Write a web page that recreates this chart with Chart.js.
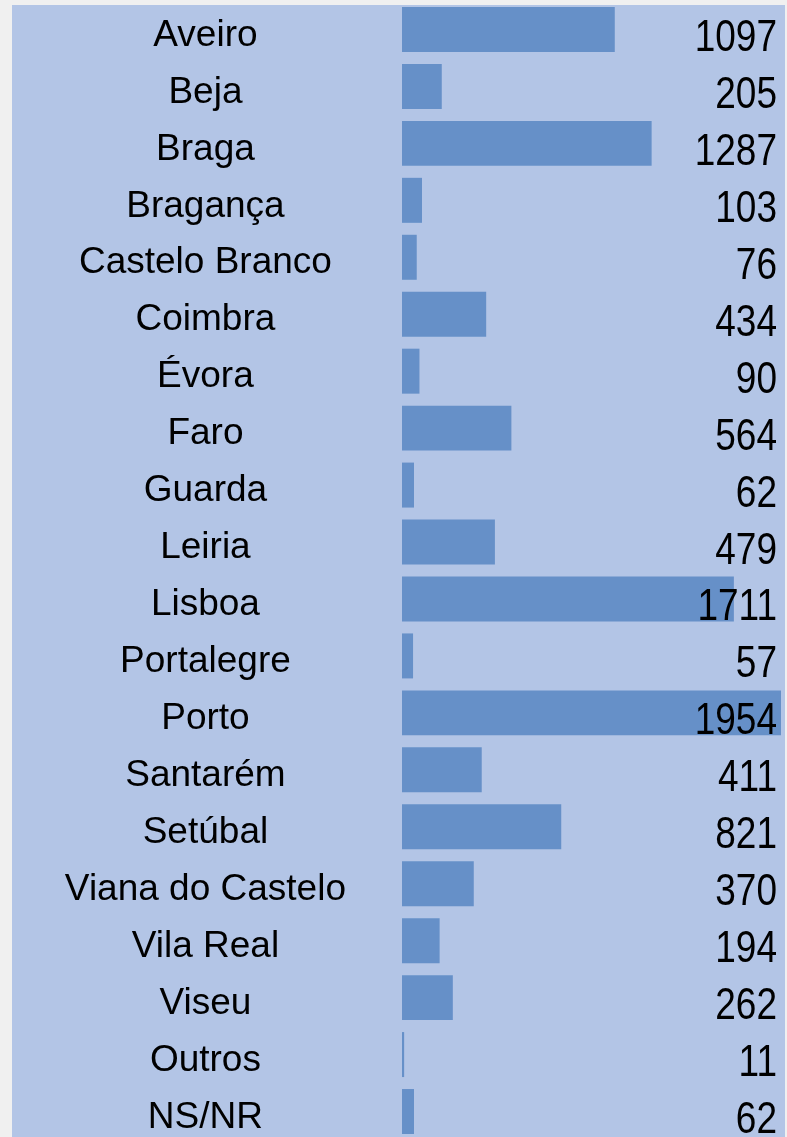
<!DOCTYPE html>
<html>
<head>
<meta charset="utf-8">
<script src="https://cdn.jsdelivr.net/npm/chart.js@4.4.1/dist/chart.umd.min.js"></script>
<style>
    html, body { margin: 0; padding: 0; background: #f0f0f0; overflow: hidden; }
    canvas { display: block; }
</style>
</head>
<body>
<canvas id="barChart" width="787" height="1141"></canvas>
<script>
const districts = ['Aveiro', 'Beja', 'Braga', 'Bragança', 'Castelo Branco', 'Coimbra', 'Évora', 'Faro',
    'Guarda', 'Leiria', 'Lisboa', 'Portalegre', 'Porto', 'Santarém', 'Setúbal', 'Viana do Castelo',
    'Vila Real', 'Viseu', 'Outros', 'NS/NR'];
const counts = [1097, 205, 1287, 103, 76, 434, 90, 564, 62, 479, 1711, 57, 1954, 411, 821, 370, 194, 262, 11, 62];

// light blue panel behind everything
const panelBg = {
    id: 'panelBg',
    beforeDraw(chart) {
        const ctx = chart.ctx;
        ctx.save();
        ctx.fillStyle = '#b3c5e6';
        ctx.fillRect(12, 5, chart.width - 14, chart.height - 5);
        ctx.restore();
    }
};

// numbers on the right, drawn next to each bar
const valueLabels = {
    id: 'valueLabels',
    afterDatasetsDraw(chart) {
        const ctx = chart.ctx;
        const meta = chart.getDatasetMeta(0);
        ctx.save();
        ctx.fillStyle = '#000';
        ctx.font = '37px "Liberation Sans", Arial, sans-serif';
        ctx.textAlign = 'right';
        ctx.textBaseline = 'alphabetic';
        meta.data.forEach(function(bar, i) {
            ctx.save();
            ctx.translate(777, bar.y + 21.5);
            ctx.scale(1, 1.18);
            ctx.fillText(String(counts[i]), 0, 0);
            ctx.restore();
        });
        ctx.restore();
    }
};

document.addEventListener('DOMContentLoaded', function() {
    const ctx = document.getElementById('barChart').getContext('2d');
    new Chart(ctx, {
        type: 'bar',
        data: {
            labels: districts,
            datasets: [{
                data: counts,
                backgroundColor: '#6690c8',
                borderWidth: 0,
                barPercentage: 0.79,
                categoryPercentage: 1
            }]
        },
        options: {
            indexAxis: 'y',
            responsive: false,
            animation: false,
            devicePixelRatio: 1,
            layout: { padding: { top: 1, bottom: 1, right: 6, left: 0 } },
            plugins: {
                legend: { display: false },
                tooltip: { enabled: false }
            },
            scales: {
                x: { display: false, min: 0, max: 1954 },
                y: {
                    grid: { display: false, drawTicks: false },
                    border: { display: false },
                    ticks: {
                        color: '#000',
                        font: { family: '"Liberation Sans", Arial, sans-serif', size: 37 },
                        crossAlign: 'center',
                        padding: 56,
                        labelOffset: 6,
                        autoSkip: false
                    },
                    afterFit: function(scale) {
                        scale.width = 402;
                        // the tick padding is only meant to push labels left
                        scale.paddingTop = 0;
                        scale.paddingBottom = 0;
                    }
                }
            }
        },
        plugins: [panelBg, valueLabels]
    });
});
</script>
</body>
</html>
